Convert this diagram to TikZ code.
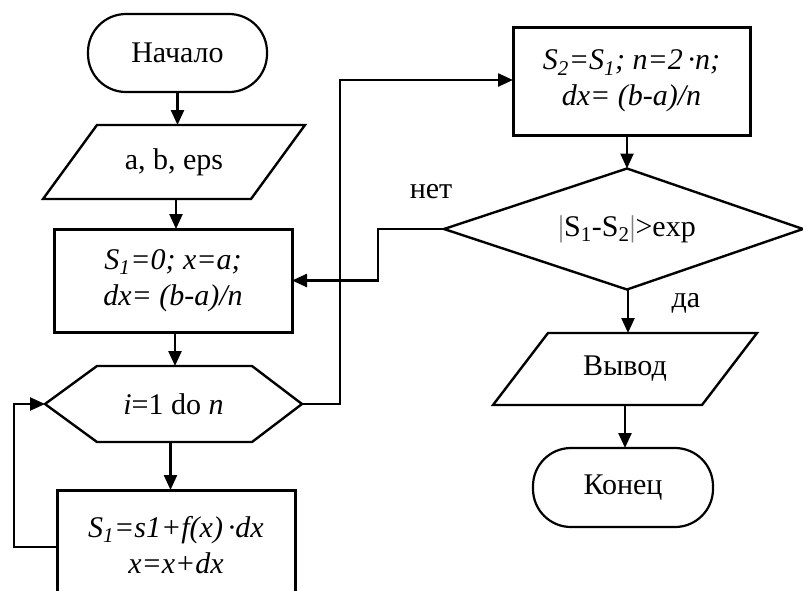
\documentclass[tikz,border=0pt]{standalone}
\usepackage{fontspec}
\setmainfont{Liberation Serif}
\usetikzlibrary{arrows.meta,calc}
\begin{document}
\begin{tikzpicture}[x=1pt,y=-1pt,
  every node/.style={inner sep=0pt,outer sep=0pt,font=\fontsize{30}{36}\selectfont,align=center},
  term/.style={draw,line width=2.2pt,rounded corners=38pt},
  proc/.style={draw,line width=3pt},
  shp/.style={line width=2.4pt,line join=miter},
  conn/.style={line width=2.4pt,-{Triangle[length=15pt,width=13pt]}},
  lbl/.style={font=\fontsize{30}{34}\selectfont}
]
\clip (0,0) rectangle (803,590);
\fill[white] (0,0) rectangle (803,590);
% nodes
\node[term,minimum width=179pt,minimum height=78pt] (start) at (177.5,53) {Начало};
\node[minimum width=262pt,minimum height=74pt] (in) at (174,162) {a, b, eps};
\draw[shp] ([xshift=54pt]in.north west) -- (in.north east) -- ([xshift=-54pt]in.south east) -- (in.south west) -- cycle;
\node[proc,minimum width=238pt,minimum height=103pt] (init) at (173,280.5)
  {\textit{S\textsubscript{1}=0; x=a;}\\\textit{dx= (b-a)/n}};
\node[minimum width=257pt,minimum height=76pt] (loop) at (173.5,404) {\textit{i}=1 do \textit{n}};
\draw[shp] (loop.west) -- ([xshift=52pt]loop.north west) -- ([xshift=-50pt]loop.north east) -- (loop.east)
  -- ([xshift=-50pt]loop.south east) -- ([xshift=52pt]loop.south west) -- cycle;
\node[proc,minimum width=238pt,minimum height=110pt] (body) at (176,545)
  {\textit{S\textsubscript{1}=s1+f(x)\,·dx}\\\textit{x=x+dx}};
\node[proc,minimum width=237pt,minimum height=108pt] (S2) at (631.5,81)
  {\textit{S\textsubscript{2}=S\textsubscript{1}; n=2\,·n;}\\\textit{dx= (b-a)/n}};
\node[minimum width=366pt,minimum height=121pt] (dia) at (627,229)
  {\textcolor{gray}{|}S\textsubscript{1}-S\textsubscript{2}\textcolor{gray}{|}>exp};
\draw[shp] (dia.north) -- ([xshift=-7pt]dia.east) -- (dia.south) -- (dia.west) -- cycle;
\node[minimum width=264pt,minimum height=72pt] (out) at (625,369) {Вывод};
\draw[shp] ([xshift=55pt]out.north west) -- (out.north east) -- ([xshift=-55pt]out.south east) -- (out.south west) -- cycle;
\node[term,minimum width=180pt,minimum height=79pt] (stop) at (623,487.5) {Конец};
\node[lbl] (no) at (431,192) {нет};
\node[lbl] (yes) at (686,303) {да};
% connectors
\draw[conn] (start.south) -- (start.south |- in.north);
\draw[conn] ([xshift=2pt]in.south) -- ([xshift=2pt]in.south |- init.north);
\draw[conn] ([xshift=2pt]init.south) -- ([xshift=2pt]init.south |- loop.north);
\draw[conn] ([xshift=-3pt]loop.south) -- ([xshift=-3pt]loop.south |- body.north);
\draw[conn] ([yshift=-2pt]body.west) -- ++(-43,0) |- (loop.west);
\draw[conn] (loop.east) -- ++(38,0) |- ([yshift=1pt]S2.west);
\draw[conn] (dia.north |- S2.south) -- (dia.north);
\draw[conn] (dia.west) -- ++(-66,0) |- (init.east);
\draw[conn] ([xshift=1pt]dia.south) -- ([xshift=1pt]dia.south |- out.north);
\draw[conn] (out.south) -- (out.south |- stop.north);
\end{tikzpicture}
\end{document}
